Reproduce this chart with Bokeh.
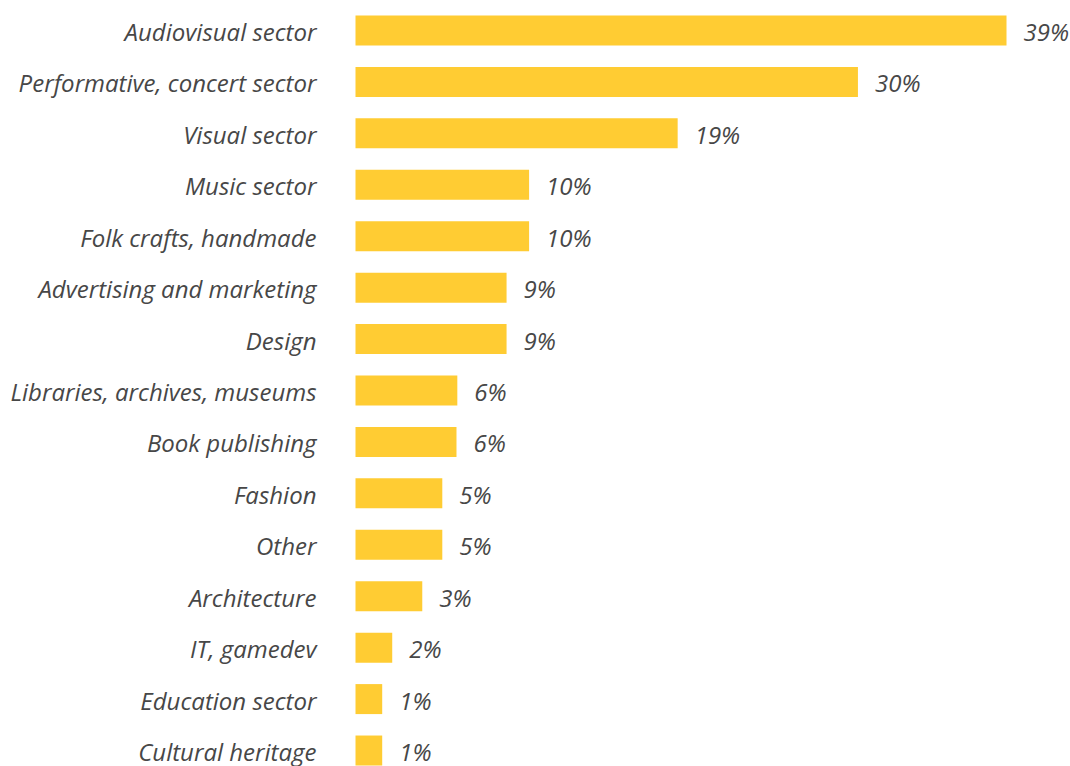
from bokeh.plotting import figure
from bokeh.models import ColumnDataSource, Range1d
from bokeh.core.properties import value
from bokeh.embed import file_html
from bokeh.resources import INLINE

categories = [
    "Audiovisual sector",
    "Performative, concert sector",
    "Visual sector",
    "Music sector",
    "Folk crafts, handmade",
    "Advertising and marketing",
    "Design",
    "Libraries, archives, museums",
    "Book publishing",
    "Fashion",
    "Other",
    "Architecture",
    "IT, gamedev",
    "Education sector",
    "Cultural heritage",
]
# bar lengths (percent)
values = [39.0, 30.1, 19.3, 10.4, 10.4, 9.05, 9.05, 6.1, 6.05, 5.2, 5.2, 4.0, 2.2, 1.6, 1.6]
value_labels = ["39%", "30%", "19%", "10%", "10%", "9%", "9%", "6%", "6%", "5%", "5%", "3%", "2%", "1%", "1%"]

W, H = 1070, 766
px_per_unit = 651 / 39.0
x_start = -355 / px_per_unit
x_end = x_start + W / px_per_unit
pitch = 51.43
y_top = -30 / pitch
y_bottom = (H - 30) / pitch

rows = list(range(len(categories)))
label_gap = 17 / px_per_unit
cat_x = -39 / px_per_unit

src = ColumnDataSource(dict(
    y=rows,
    v=values,
    cat=categories,
    lab=value_labels,
    lx=[v + label_gap for v in values],
    cx=[cat_x] * len(rows),
))

p = figure(width=W, height=H, output_backend="svg", toolbar_location=None,
           x_range=Range1d(x_start, x_end), y_range=Range1d(y_bottom, y_top),
           min_border=0, outline_line_color=None, background_fill_color="white",
           border_fill_color="white")
p.axis.visible = False
p.grid.visible = False

p.hbar(y="y", left=0, right="v", height=30 / pitch, source=src,
       fill_color="#FFCC33", line_color=None)

text_style = dict(text_baseline="middle", text_font=value("Open Sans"),
                  text_font_style="italic", text_font_size="24px",
                  text_color="#474747", y_offset=1)
p.text(x="cx", y="y", text="cat", source=src, text_align="right", **text_style)
p.text(x="lx", y="y", text="lab", source=src, text_align="left", **text_style)

open("out.html", "w").write(file_html(p, INLINE))
